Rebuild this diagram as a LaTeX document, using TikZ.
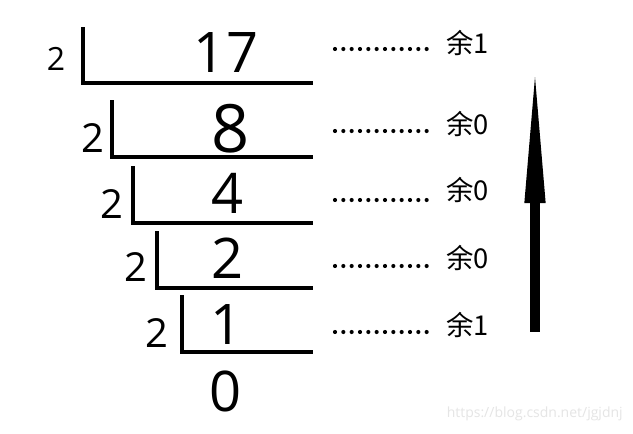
\documentclass[tikz,border=0pt]{standalone}
\usepackage{fontspec}
\setmainfont{Open Sans}
\newfontfamily\cjk{Noto Sans CJK SC}
\begin{document}
\begin{tikzpicture}[x=0.75pt,y=-0.75pt,
  bar/.style={line width=3pt},
  quot/.style={font=\fontsize{42}{42}\selectfont, inner sep=0pt},
  divs/.style={font=\fontsize{30}{30}\selectfont, inner sep=0pt},
  rem/.style={font=\cjk\fontsize{20.5}{20.5}\selectfont, inner sep=0pt, anchor=west},
  dotline/.style={line width=3.1pt, line cap=round, dash pattern=on 0pt off 6.25pt}]
\useasboundingbox[fill=white] (0,0) rectangle (633,433);

% row 1
\node[divs, font=\fontsize{24}{24}\selectfont] (d1) at (56,59) {2};
\node[quot] (q1) at (226,53) {17};
\coordinate (t1) at (83,27); \coordinate (c1) at (83,83); \coordinate (e1) at (313,83);
\draw[bar] (t1) -- (c1) -- (e1);
% row 2
\node[divs] (d2) at (93,138) {2};
\node[quot, font=\fontsize{50}{50}\selectfont] (q2) at (231,129) {8};
\coordinate (t2) at (112,100); \coordinate (c2) at (112,157); \coordinate (e2) at (313,157);
\draw[bar] (t2) -- (c2) -- (e2);
% row 3
\node[divs] (d3) at (112,204) {2};
\node[quot] (q3) at (228,193) {4};
\coordinate (t3) at (133,166); \coordinate (c3) at (133,223); \coordinate (e3) at (313,223);
\draw[bar] (t3) -- (c3) -- (e3);
% row 4
\node[divs] (d4) at (136,267) {2};
\node[quot] (q4) at (228,258) {2};
\coordinate (t4) at (157,231); \coordinate (c4) at (157,288); \coordinate (e4) at (313,288);
\draw[bar] (t4) -- (c4) -- (e4);
% row 5
\node[divs] (d5) at (157,333) {2};
\node[quot] (q5) at (227,325) {1};
\coordinate (t5) at (182,295); \coordinate (c5) at (182,352); \coordinate (e5) at (313,352);
\draw[bar] (t5) -- (c5) -- (e5);
% final quotient
\node[quot] (q6) at (226,391) {0};

% remainders
\foreach \i/\dy/\ty/\r in {1/49/43/1, 2/131/124/0, 3/200/190/0, 4/266/258/0, 5/332/325/1}{
  \coordinate (ds\i) at (335,\dy); \coordinate (de\i) at (435,\dy);
  \draw[dotline] (ds\i) -- (de\i);
  \node[rem] (r\i) at (446,\ty) {余\r};
}

% arrow
\coordinate (ab) at (535,332); \coordinate (ah) at (535,203); \coordinate (at) at (535,77);
\fill ([xshift=-4]ab) rectangle ([xshift=4]ah);
\fill ([xshift=-8]ah) -- ([xshift=8]ah) -- (at) -- cycle;

% watermark
\node[font=\fontsize{10.5}{10.5}\selectfont, text=black!10, inner sep=0pt, anchor=east] (wm) at (623,414) {https://blog.csdn.net/jgjdnj};
\end{tikzpicture}
\end{document}
